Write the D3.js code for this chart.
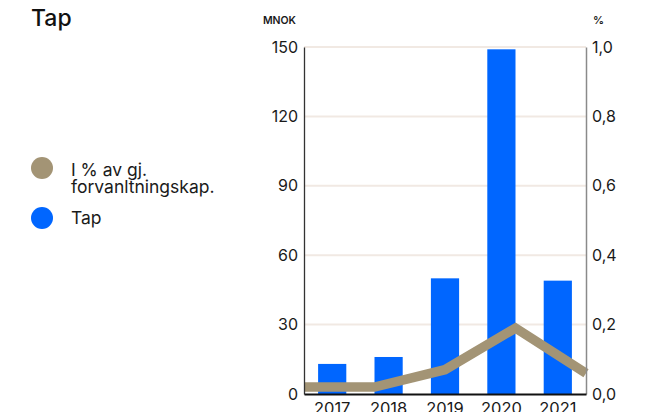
<!DOCTYPE html>
<html>
<head>
<meta charset="utf-8">
<script src="https://cdn.jsdelivr.net/npm/d3@7"></script>
<style>
  html, body { margin: 0; padding: 0; background: #fff; }
  svg { display: block; font-family: Inter, "Noto Sans", sans-serif; }
</style>
</head>
<body>
<svg id="chart" width="645" height="412"></svg>
<script>
// Yearly losses (MNOK) and losses as share of average assets under management (%)
const years = ["2017", "2018", "2019", "2020", "2021"];
const tapValues = [13, 16, 50, 149, 49];
const pctValues = [0.02, 0.02, 0.07, 0.19, 0.06];
const leftTicks = [0, 30, 60, 90, 120, 150];
const rightTicks = [0, 0.2, 0.4, 0.6, 0.8, 1.0];
const legendLabels = [["I % av gj.", "forvanltningskap."], ["Tap"]];

const colors = { bar: "#0066ff", line: "#a39475", grid: "#f1e9e3", text: "#1a1a1a" };

const svg = d3.select("#chart");
const plot = { left: 304, right: 586, top: 47, bottom: 394 };

const x = d3.scaleBand().domain(years).range([plot.left, plot.right]).paddingInner(0.5).paddingOuter(0.25);
const xLine = d3.scalePoint().domain(years).range([plot.left, plot.right]);
const yL = d3.scaleLinear().domain([0, 150]).range([plot.bottom, plot.top]);
const yR = d3.scaleLinear().domain([0, 1]).range([plot.bottom, plot.top]);

// gridlines
svg.append("g").selectAll("line").data(leftTicks.filter(d => d > 0)).join("line")
  .attr("x1", plot.left).attr("x2", plot.right)
  .attr("y1", d => yL(d)).attr("y2", d => yL(d))
  .attr("stroke", colors.grid).attr("stroke-width", 2);

// bars
svg.append("g").selectAll("rect").data(years).join("rect")
  .attr("x", d => x(d)).attr("width", x.bandwidth())
  .attr("y", (d, i) => yL(tapValues[i]))
  .attr("height", (d, i) => yL(0) - yL(tapValues[i]))
  .attr("fill", colors.bar);

// percentage line
svg.append("path").datum(pctValues)
  .attr("fill", "none").attr("stroke", colors.line).attr("stroke-width", 9.5)
  .attr("stroke-linejoin", "miter")
  .attr("d", d3.line().x((d, i) => xLine(years[i])).y(d => yR(d)));

// left axis
const axL = svg.append("g").attr("transform", `translate(${plot.left},0)`)
  .call(d3.axisLeft(yL).tickValues(leftTicks).tickSize(0).tickPadding(6));
axL.select(".domain").attr("stroke", "#333").attr("stroke-width", 1.3);
axL.selectAll("text").attr("font-size", 16).attr("fill", colors.text).attr("font-family", "Inter");

// right axis
const fmt = d => d3.format(".1f")(d).replace(".", ",");
const axR = svg.append("g").attr("transform", `translate(${plot.right},0)`)
  .call(d3.axisRight(yR).tickValues(rightTicks).tickFormat(fmt).tickSize(0).tickPadding(6));
axR.select(".domain").attr("stroke", "#8a8a8a").attr("stroke-width", 1.5);
axR.selectAll("text").attr("font-size", 16).attr("fill", colors.text).attr("font-family", "Inter");

// bottom axis
const axB = svg.append("g").attr("transform", `translate(0,${plot.bottom})`)
  .call(d3.axisBottom(x).tickSize(0).tickPadding(8));
axB.select(".domain").attr("stroke", "#111").attr("stroke-width", 2);
axB.selectAll("text").attr("font-size", 16.5).attr("fill", colors.text).attr("font-family", "Inter");

// unit labels
svg.append("text").attr("x", 296).attr("y", 24).attr("text-anchor", "end")
  .attr("font-size", 10.5).attr("font-weight", 600).attr("fill", colors.text).text("MNOK");
svg.append("text").attr("x", 593).attr("y", 24)
  .attr("font-size", 11).attr("font-weight", 600).attr("fill", colors.text).text("%");

// title
svg.append("text").attr("x", 31).attr("y", 26)
  .attr("font-size", 23).attr("font-weight", 500).attr("fill", "#111").text("Tap");

// legend
const legendY = [168, 218];
const legendColors = [colors.line, colors.bar];
const lg = svg.append("g").selectAll("g").data(legendLabels).join("g");
lg.append("circle").attr("cx", 42).attr("cy", (d, i) => legendY[i]).attr("r", 11)
  .attr("fill", (d, i) => legendColors[i]);
lg.append("text").attr("x", 71).attr("y", (d, i) => legendY[i] + (i === 0 ? 8 : 6))
  .attr("font-size", 17.5).attr("fill", colors.text)
  .selectAll("tspan").data(d => d).join("tspan")
  .attr("x", 71).attr("dy", (d, j) => j === 0 ? 0 : 17).text(d => d);
</script>
</body>
</html>
